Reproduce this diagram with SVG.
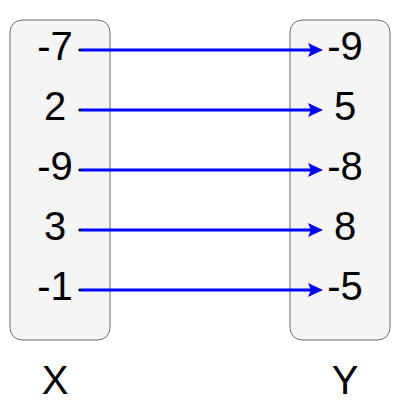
<svg xmlns="http://www.w3.org/2000/svg" width="400" height="400" viewBox="0 0 400 400">
<defs>
<style>
.box{fill:#f5f5f5;stroke:#666;stroke-width:1}
.t{font-family:"Liberation Sans",Arial,sans-serif;font-size:40px;fill:#000;text-anchor:middle}
.c{stroke:#0000ff;stroke-width:3;fill:none;marker-end:url(#ah)}
</style>
<marker id="ah" viewBox="0 0 15 14" refX="5" refY="7" markerWidth="15" markerHeight="14" orient="auto" markerUnits="userSpaceOnUse">
<path d="M0,0 L15,7 L0,14 L3,7 Z" fill="#0000ff"/>
</marker>
</defs>
<rect width="400" height="400" fill="#fff"/>
<g id="X">
<rect class="box" x="10" y="20" width="100" height="320" rx="12"/>
<text class="t" x="55" y="60">-7</text>
<text class="t" x="55" y="120">2</text>
<text class="t" x="55" y="180">-9</text>
<text class="t" x="55" y="240">3</text>
<text class="t" x="55" y="300">-1</text>
</g>
<g id="Y">
<rect class="box" x="290" y="20" width="100" height="320" rx="12"/>
<text class="t" x="345" y="60">-9</text>
<text class="t" x="345" y="120">5</text>
<text class="t" x="345" y="180">-8</text>
<text class="t" x="345" y="240">8</text>
<text class="t" x="345" y="300">-5</text>
</g>
<g id="labelX"><text class="t" x="55" y="394">X</text></g>
<g id="labelY"><text class="t" x="345" y="394">Y</text></g>
<g id="connectors">
<g fill="#000"><circle cx="80" cy="50" r="1.6"/><circle cx="80" cy="110" r="1.6"/><circle cx="80" cy="170" r="1.6"/><circle cx="80" cy="230" r="1.6"/><circle cx="80" cy="290" r="1.6"/></g>
<line class="c" x1="81" y1="50" x2="313" y2="50"/>
<line class="c" x1="81" y1="110" x2="313" y2="110"/>
<line class="c" x1="81" y1="170" x2="313" y2="170"/>
<line class="c" x1="81" y1="230" x2="313" y2="230"/>
<line class="c" x1="81" y1="290" x2="313" y2="290"/>
</g>
</svg>
